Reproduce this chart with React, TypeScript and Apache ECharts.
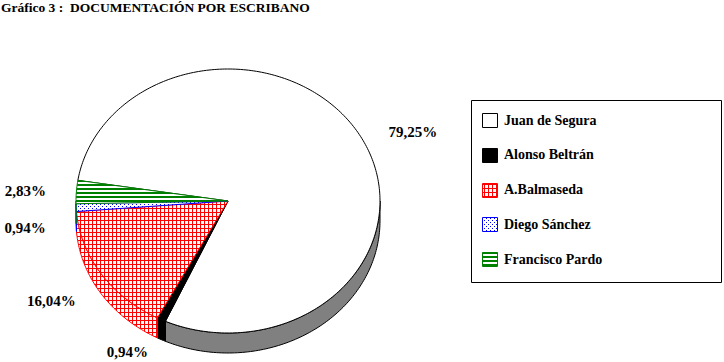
import React, { useEffect, useRef } from "react";
import * as echarts from "echarts";

const TITLE = "Gráfico 3 :  DOCUMENTACIÓN POR ESCRIBANO";
const categories = ["Juan de Segura", "Alonso Beltrán", "A.Balmaseda", "Diego Sánchez", "Francisco Pardo"];
const percentages = [79.25, 0.94, 16.04, 0.94, 2.83];

// ---- styling (kept apart from data) ----
const START_ANGLE = 171;
const CX = 228;
const CY = 201;
const RX = 152;
const RY = 132;
const DEPTH = 20;
const FONT = "bold 14px 'Liberation Serif', 'Times New Roman', serif";
const LABEL_FONT = "bold 15px 'Liberation Serif', 'Times New Roman', serif";

type Kind = "plain" | "grid" | "dots" | "stripes";
const sliceLook: { kind: Kind; top: string; side: string; stroke: string }[] = [
  { kind: "plain", top: "#ffffff", side: "#808080", stroke: "#000000" },
  { kind: "plain", top: "#000000", side: "#000000", stroke: "#000000" },
  { kind: "grid", top: "#ff0000", side: "#ff0000", stroke: "#ff0000" },
  { kind: "dots", top: "#0000ff", side: "#0000ff", stroke: "#0000ff" },
  { kind: "stripes", top: "#008000", side: "#008000", stroke: "#008000" },
];

function makePattern(kind: Kind, color: string): any {
  if (kind === "plain") return color;
  const c = document.createElement("canvas");
  c.width = 4;
  c.height = 4;
  const ctx = c.getContext("2d")!;
  ctx.fillStyle = "#ffffff";
  ctx.fillRect(0, 0, 4, 4);
  ctx.fillStyle = color;
  if (kind === "grid") {
    ctx.fillRect(0, 0, 4, 1);
    ctx.fillRect(0, 0, 1, 4);
  } else if (kind === "dots") {
    ctx.fillRect(0, 0, 1, 1);
    ctx.fillRect(2, 2, 1, 1);
  } else {
    ctx.fillRect(0, 0, 4, 2);
  }
  return { image: c.toDataURL(), repeat: "repeat", imageWidth: 4, imageHeight: 4 };
}

export default function App() {
  const ref = useRef<HTMLDivElement>(null);
  useEffect(() => {
    if (!ref.current) return;
    const chart = echarts.init(ref.current, undefined, { renderer: "svg" });

    const topFills = sliceLook.map((s) => makePattern(s.kind, s.top));
    const sideFills = sliceLook.map((s) => (s.kind === "plain" ? s.side : makePattern(s.kind, s.side)));

    const total = percentages.reduce((a, b) => a + b, 0);
    const angles: number[] = [START_ANGLE];
    percentages.forEach((v, i) => angles.push(angles[i] - (v / total) * 360));

    const pt = (deg: number, dy = 0) => {
      const r = (deg * Math.PI) / 180;
      return [CX + RX * Math.cos(r), CY - RY * Math.sin(r) + dy];
    };
    const arc = (from: number, to: number, dy = 0) => {
      const n = Math.max(2, Math.ceil(Math.abs(from - to)));
      const out: number[][] = [];
      for (let k = 0; k <= n; k++) out.push(pt(from + ((to - from) * k) / n, dy));
      return out;
    };

    const renderItem = (params: any, api: any) => {
      const i = params.dataIndex;
      const a1 = angles[i];
      const a2 = angles[i + 1];
      const look = sliceLook[i];
      const children: any[] = [];
      for (let k = -1; k <= 1; k++) {
        const lo = Math.max(a2, -180 + 360 * k);
        const hi = Math.min(a1, 360 * k);
        if (hi > lo) {
          const pts = arc(hi, lo).concat(arc(lo, hi, DEPTH));
          children.push({
            type: "polygon",
            shape: { points: pts },
            style: { fill: sideFills[i], stroke: look.stroke, lineWidth: 1 },
          });
        }
      }
      children.push({
        type: "polygon",
        shape: { points: [[CX, CY]].concat(arc(a1, a2)) },
        style: { fill: topFills[i], stroke: look.stroke, lineWidth: 1 },
      });
      const mid = (a1 + a2) / 2;
      const r = (mid * Math.PI) / 180;
      const c = Math.cos(r);
      const s = Math.sin(r);
      const x = CX + RX * 1.2 * c;
      const y = CY - RY * 1.1 * s + (s < 0 ? DEPTH : 0);
      const al = c >= 0 ? "left" : "right";
      children.push({
        type: "text",
        x,
        y,
        style: {
          text: (api.value(0) as number).toFixed(2).replace(".", ",") + "%",
          font: LABEL_FONT,
          fill: "#000000",
          align: al,
          textAlign: al,
          verticalAlign: "middle",
          textVerticalAlign: "middle",
        },
      });
      return { type: "group", children };
    };

    const legendItems: any[] = [];
    categories.forEach((name, i) => {
      const cy = 120 + i * 34.8;
      legendItems.push({
        type: "rect",
        shape: { x: 482.5, y: Math.round(cy - 7) + 0.5, width: 15, height: 14 },
        style: { fill: topFills[i], stroke: sliceLook[i].stroke, lineWidth: 1 },
      });
      legendItems.push({
        type: "text",
        x: 504,
        y: cy,
        style: {
          text: name,
          font: FONT,
          fill: "#000000",
          verticalAlign: "middle",
          textVerticalAlign: "middle",
        },
      });
    });

    chart.setOption({
      animation: false,
      backgroundColor: "#ffffff",
      title: {
        text: TITLE,
        left: 1,
        top: 0,
        padding: 0,
        textStyle: {
          fontFamily: "'Liberation Serif', 'Times New Roman', serif",
          fontWeight: "bold",
          fontSize: 13.5,
          color: "#000000",
        },
      },
      graphic: [
        {
          type: "rect",
          shape: { x: 471.5, y: 100.5, width: 250, height: 182 },
          style: { fill: "#ffffff", stroke: "#000000", lineWidth: 1 },
        },
        ...legendItems,
      ],
      series: [
        {
          type: "custom",
          coordinateSystem: "none",
          silent: true,
          renderItem,
          data: percentages.map((v, i) => ({ name: categories[i], value: [v] })),
        },
      ],
    });
    return () => chart.dispose();
  }, []);
  return (
    <div
      ref={ref}
      style={{ position: "fixed", left: 0, top: 0, width: 724, height: 362, background: "#fff" }}
    />
  );
}
